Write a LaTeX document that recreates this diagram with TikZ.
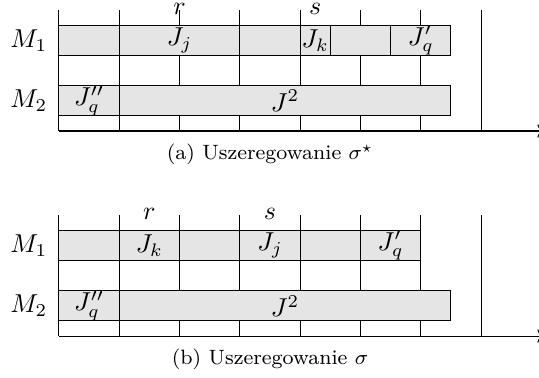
\documentclass[tikz,border=0pt]{standalone}
\usepackage{amsmath}
\usepackage{amssymb}
\usetikzlibrary{arrows.meta}

\begin{document}
\begin{tikzpicture}[x=0.818cm, y=0.818cm,
  job/.style={draw, fill=gray!20},
  capt/.style={anchor=base, font=\footnotesize}]
  \useasboundingbox (-0.978,2.172) rectangle (7.96,-4.096);
  % (a) schedule sigma star
  \foreach \t in {0,...,7} \draw (\t,0) -- (\t,2);
  \coordinate (aO) at (0,0);
  \coordinate (aE) at (8.04,0);
  \draw[->] (aO) -- (aE);
  \draw[job] (0,1.25) rectangle (1,1.75);
  \draw[job] (1,1.25) rectangle (3,1.75);
  \draw[job] (3,1.25) rectangle (4,1.75);
  \draw[job] (4,1.25) rectangle (4.5,1.75);
  \draw[job] (4.5,1.25) rectangle (5.5,1.75);
  \draw[job] (5.5,1.25) rectangle (6.5,1.75);
  \draw[job] (0,0.25) rectangle (1,0.75);
  \draw[job] (1,0.25) rectangle (6.5,0.75);
  \node (aM1) at (0,1.5) [left=1pt] {$M_1$};
  \node (aM2) at (0,0.5) [left=1pt] {$M_2$};
  \node (ar) at (2,2.03) {$r$};
  \node (as) at (4.25,2.03) {$s$};
  \node (aJj) at (2,1.5) {$J_j$};
  \node (aJk) at (4.25,1.5) {$J_k$};
  \node (aJq1) at (6,1.5) {$J'_q$};
  \node (aJq2) at (0.5,0.5) {$J''_q$};
  \node (aJ2) at (3.75,0.5) {$J^2$};
  \node[capt] (acap) at (3.5,-0.48) {(a) Uszeregowanie $\sigma^\star$};
  % (b) schedule sigma
  \begin{scope}[yshift=-3.4*0.818cm]
    \foreach \t in {0,...,7} \draw (\t,0) -- (\t,2);
    \coordinate (bO) at (0,0);
    \coordinate (bE) at (8.04,0);
    \draw[->] (bO) -- (bE);
    \foreach \t in {0,...,5}
      \draw[job] (\t,1.25) rectangle (\t+1,1.75);
    \draw[job] (0,0.25) rectangle (1,0.75);
    \draw[job] (1,0.25) rectangle (6.5,0.75);
    \node (bM1) at (0,1.5) [left=1pt] {$M_1$};
    \node (bM2) at (0,0.5) [left=1pt] {$M_2$};
    \node (br) at (1.5,2.03) {$r$};
    \node (bs) at (3.5,2.03) {$s$};
    \node (bJk) at (1.5,1.5) {$J_k$};
    \node (bJj) at (3.5,1.5) {$J_j$};
    \node (bJq1) at (5.5,1.5) {$J'_q$};
    \node (bJq2) at (0.5,0.5) {$J''_q$};
    \node (bJ2) at (3.75,0.5) {$J^2$};
    \node[capt] (bcap) at (3.5,-0.48) {(b) Uszeregowanie $\sigma$};
  \end{scope}
\end{tikzpicture}
\end{document}
